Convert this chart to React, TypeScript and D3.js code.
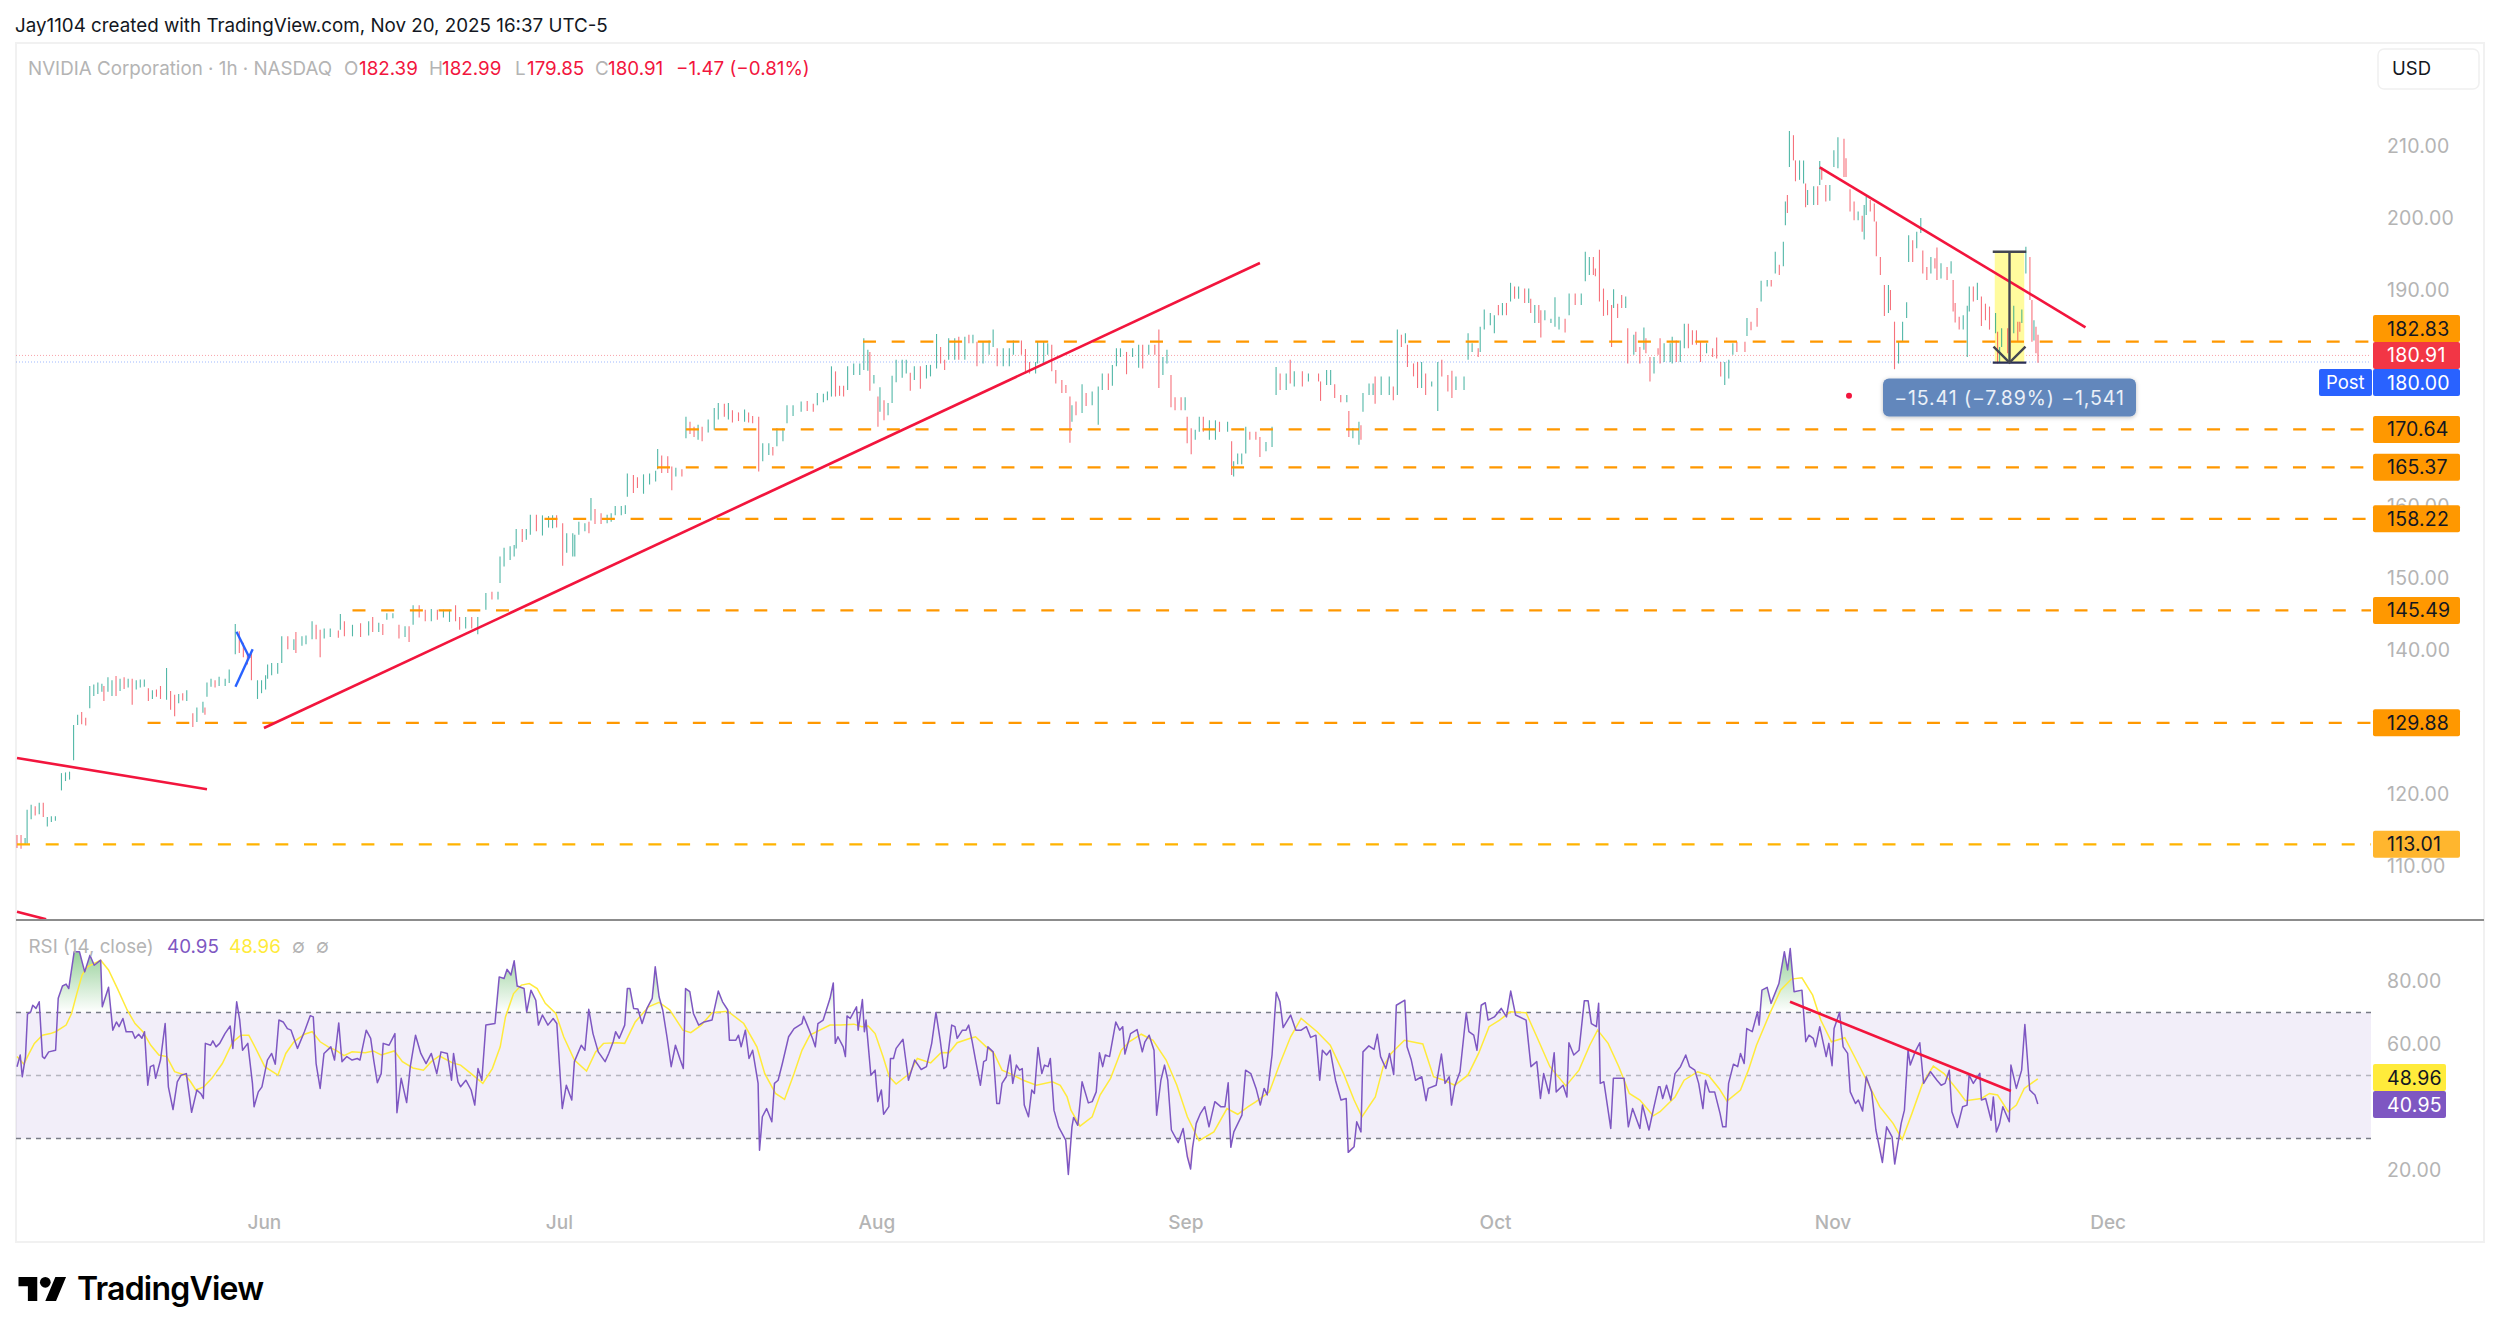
import React from 'react';
import * as d3 from 'd3';

// one row per visible hourly bar: [bar number, high, low, 1 = up / 0 = down]
type Bar = [number, number, number, number];

const mayBars: Bar[] = [
  [0,114.3,112.5,0],[2,114.3,112.4,0],[4,113.9,113,1],[5,117.8,113.1,1],[7,118.5,116.5,1],[9,118.3,117,0],[11,118.8,117.2,1],[13,118.8,116.8,0],[15,116.8,115.5,1],[17,116.9,116.1,1],[19,116.9,116.3,1],
  [22,122.9,120.5,1],[24,123,121.8,1],[26,123.1,122,1],[28,129.6,124.7,1],[30,131,129.6,1],[32,131.4,129.7,0],[34,130.6,129.5,0],[36,135,131.9,1],[38,135.2,133.6,1],[40,135.5,133.9,1],[42,135.3,134.2,1],[43,135,132.9,0],[45,136.2,134.2,1],[47,135.8,133.6,1],[49,136.4,133.6,0],[51,136,134.3,1],[53,136.2,134.6,0],[55,136,134.8,1],[57,136,132.4,0],[59,135.8,134.5,1],[61,135.9,134.8,1],[63,135.9,134.9,1],
  [65,134.7,132.9,0],[67,134.4,133.2,1],[69,134.5,133.5,0],[71,135,133.2,0],[74,137.5,133.1,1],[76,134.3,131.7,0],[78,133.8,130.8,0],[80,133.9,132.6,1],[82,134,133,0],[84,134.4,132.9,1],[87,131.2,129.3,0],[89,132,130,1],[92,132.8,131.3,1],[93,132,131,0],[94,135.5,133.5,1],[96,136,134.9,1],[98,135.8,134.8,0],[100,136.3,135,1],[103,136,135,1],[105,137.3,135.4,1],[108,143.6,139.4,1],[110,142.6,139.6,0],[112,141,139,0],[114,139.5,138,0],[116,139.5,135.8,0],[119,135.8,133.2,1],[121,135.8,134,1],
];
const junBars: Bar[] = [
  [123,136.5,134.5,1],[124,138,136,1],[126,138.2,136.5,1],[129,138.2,136.7,1],[131,141.9,138.2,1],[134,141.9,140.1,0],[137,141.5,140,1],[138,142.5,139.6,0],[141,141.9,140.6,1],[143,142,140.8,1],[146,144,141.5,1],[148,143.5,141.5,0],[150,142.8,139,0],[152,143,141.6,1],[155,143,141.8,1],[159,142.7,141.7,0],[160,145,142.8,1],[162,144,141.9,0],[166,143.5,141.9,1],[170,143.7,141.8,0],[174,144,142,1],[176,144.6,142.5,0],[179,143.8,142.5,1],[181,143.6,142.1,0],[183,145.1,144.2,1],[186,145.1,144.4,1],[189,143.5,141.6,0],[192,143.3,141.8,1],[194,143.3,141.1,0],[196,146.2,143.5,1],[199,146.2,144.5,0],[202,145.6,144,0],[205,145.7,144,1],[208,145.6,144.2,0],[211,145.6,144.5,1],[214,145.6,143.9,1],[217,146.2,144,0],[219,144.6,142.8,0],[222,144.6,143,1],[225,144.6,143,0],[228,144.6,142.2,1],[232,147.9,145.6,1],[235,148.1,147,0],[238,148.1,147,1],
  [239,153,149.3,1],[241,154.2,151.6,1],[244,154.4,152.5,1],[246,154.6,153,1],[247,156.8,154.1,1],[250,156.8,155,0],[252,156.8,155.3,1],[254,158.8,156,1],[257,158.8,156.5,0],[260,158.7,155.9,1],[263,158.6,157,1],[265,158.7,156.9,1],[267,158.7,157,0],
];
const julBars: Bar[] = [
  [270,157.6,151.7,0],[272,156.2,153.5,1],[275,156.2,153,1],[276,156,153,1],[278,157.8,156,1],[281,157.6,156.5,1],[283,157.8,156.2,0],[284,161.1,158,1],[286,159.6,157.5,0],[289,159,157.5,0],[292,158.8,157.6,1],[294,159,157.8,1],[296,160,158.7,1],[299,160,158.7,1],[301,160.1,158.9,1],
  [302,164.5,161.3,1],[305,164.3,161.8,0],[307,164,162.5,0],[310,164.4,161.7,1],[313,164.5,163,1],[316,164.9,163.4,1],[317,167.9,165.1,1],[319,167,164.6,0],[322,166.9,164.6,0],[324,165.5,162.2,0],[326,165.3,164.1,1],[329,165.1,164.1,0],
  [331,172.4,169.4,1],[333,171.7,170,0],[335,171,169.6,0],[337,171.3,169.2,1],[339,171,169,0],[342,172,170.2,1],[345,173.6,170.6,1],[347,174.3,172,1],[350,174.2,172.4,0],[352,174.3,172,1],[354,173.3,171.6,0],[357,173,171.8,0],[360,173.4,171.7,1],[362,173,171.6,0],[364,172.5,171.5,0],[367,172.4,164.8,0],[369,168.7,166.2,1],[372,168.7,167.1,1],[374,168.2,167,0],[376,170.8,168.3,1],[379,170.8,169,1],[381,174,171.5,1],[384,174,172.5,1],
  [388,174.5,173.1,1],[391,174.6,173.2,0],[394,174.2,173.1,0],[396,175.7,174,1],[399,175.6,174.4,1],[401,175.9,174.7,1],[403,179.4,175.2,1],[405,178.7,175.2,0],[407,176.7,175.3,0],[409,176.7,175.2,0],[411,179.4,176.1,1],[414,179.8,178.2,1],[417,179.8,178.2,1],[419,183.3,178.9,1],[421,181.7,178.8,1],[422,181.4,176,0],
];
const augBars: Bar[] = [
  [424,178.2,177,1],[426,175.2,171,0],[427,176.5,173.1,1],[429,174.7,171.9,0],[431,174.3,172.6,1],[433,178.1,174.3,1],[435,180.3,177.2,1],[438,180.3,177.8,1],[440,180.3,178.4,1],[442,178.5,176,0],[444,179.4,177.5,1],[447,179.4,176.3,0],[450,179.6,177.7,1],[452,179.6,178,1],[455,183.9,179.1,1],[457,182.1,179.8,0],[459,180.3,178.9,0],[461,183.3,180.3,1],[464,183.3,180.3,1],[466,183.5,180.3,0],[469,183.5,180.3,1],[471,183.8,182.6,0],[473,183.8,182.6,1],[475,182.8,179.4,0],[478,182.8,179.8,1],[481,183,181,1],[483,184.5,182.1,1],[485,181.9,179.4,0],[488,181.9,179.4,1],[491,181.9,179.4,1],[493,183,181,1],[497,183,181,0],[499,181.8,178.4,0],[501,180,178.4,0],[504,180,178.4,1],[505,182.8,179.8,1],[508,182.8,179.8,1],[510,182.6,181,1],[512,182.4,178.7,0],[514,178.9,177,0],[517,177.5,175.7,0],[519,176.8,175.7,0],[521,175.2,168.8,0],[522,174,171.7,1],[524,174.5,172.6,0],[527,176.9,172.9,1],[529,175.7,173.9,0],[532,175.9,174,1],[535,176.6,171.3,1],[537,178.4,176.1,1],[540,178.4,176.1,0],[542,179.6,176.7,1],[544,181.9,179.4,1],[546,181.9,180.7,1],[549,181.4,178.3,0],[552,181.9,180.7,1],[555,182.4,179.2,1],[557,182.4,179.1,0],[560,182.4,181,1],[563,182.4,181,0],[565,184.5,176.4,0],[567,180.7,178.2,1],[569,181.7,179.8,1],[571,178.2,173.7,0],[573,175.1,173.3,0],[576,175.1,173.3,0],[578,175.1,173.3,1],
];
const sepBars: Bar[] = [
  [579,172.4,168.7,0],[581,170.8,167.2,0],[583,170.6,169.2,1],[585,172.4,170.3,1],[587,172.4,170.3,0],[590,171.9,169.2,1],[593,171.9,169.2,1],[595,171.7,170.3,0],[599,171.7,170.3,1],[601,169,164.3,0],[602,166.2,164.1,1],[604,167.3,165.8,1],[606,167.3,165.8,1],[608,171,167.3,1],[610,170.3,169.2,0],[613,170.3,169.2,0],[615,169.6,166.8,0],[618,168.9,167.6,1],[621,171,168.2,1],
  [623,179.3,175.4,1],[625,178.4,176.1,0],[628,178.4,176.1,1],[630,180.3,177,0],[632,178.7,176.6,1],[636,178.7,176.6,0],[639,178.4,177.3,1],[644,178.4,177.3,0],[645,177.3,174.6,0],[648,178.9,176.8,1],[650,178.9,176.8,1],[652,176.9,175,0],[655,175.4,174.4,0],[658,175.4,174.4,1],[659,173.2,169.6,0],[661,170.8,169.4,1],[664,171.7,168.5,1],[665,171.2,169.2,0],[666,175.7,173.1,1],[669,177,175.4,1],[671,177,175.4,1],[672,178,174.2,0],[675,178,175.4,1],[679,178,175.4,1],[681,176.6,174.7,0],[683,184.5,175.4,1],[685,183.8,182.1,0],[687,184,182.6,1],[688,182.4,179.3,0],[691,179.8,178,0],[693,180,176.4,0],[695,180,176.4,1],[697,178.4,175.4,0],[700,177.3,176.6,1],[703,180,173.2,1],[705,180.3,178,0],[708,178.2,175.9,0],[710,178.8,175,0],[712,178,176.1,1],[716,178,176.1,1],[718,184,180.3,1],[720,182.6,181.4,1],[723,181.9,180.7,0],[724,184.9,181.4,1],[726,187.3,184.5,1],[729,186.8,185.1,1],
];
const octBars: Bar[] = [
  [731,186.5,184,1],[733,187.9,186.5,0],[735,188.2,186.5,1],[737,188.2,186.5,0],[739,191,188.4,1],[741,190.5,188.8,0],[743,190.5,188.8,1],[746,190.2,188.2,0],[748,190.2,188.2,1],[749,188.8,186.8,0],[751,187.9,185.4,1],[753,187.9,185.4,0],[754,187.2,183.4,0],[756,187.2,185.8,1],[759,186,185.4,1],[761,189,184.9,1],[763,186.3,184.5,1],[766,186,184.1,0],[768,189.5,186.5,1],[771,189.5,187.9,0],[774,189.5,187.9,1],
  [776,195.3,191.2,1],[778,194.6,192.1,1],[780,194.6,192.1,0],[781,193,191.9,0],[783,195.6,188.4,0],[785,190.2,186.4,0],[787,188.6,186.5,0],[789,187.9,182.1,0],[790,190.1,187.5,1],[792,188.1,186.1,0],[794,189.3,187.5,0],[796,189.1,187.5,1],[797,184.7,179.8,0],[800,183.8,181,1],[801,184.2,181.4,0],[803,182.1,179.8,0],[805,184.8,181.7,1],[806,183.3,181.2,0],[808,180.7,177.3,0],[810,180.7,178.4,1],[812,181.9,181,0],[813,183.3,179.8,0],[815,182.6,180,1],[818,182.6,180,1],[819,183.5,179.8,1],[821,183,180,0],[823,183,180,1],[825,185.3,181.9,1],[827,185.3,181.9,0],[829,184.4,182.4,0],[831,184.4,182.4,0],[833,182.8,180,0],[836,182.6,181.2,1],[839,181.9,180.7,0],[841,183.4,180.5,0],[843,180,178,0],[845,180,176.8,1],[847,180.3,177.7,1],[849,182.6,181,1],[851,182.8,181.4,0],[855,182.8,181.4,0],[856,186.1,183.6,1],[858,185.6,184.4,0],[861,187.5,184.9,0],[863,191.3,188.4,1],[866,191.4,190.5,1],[868,191.4,190.5,0],[870,195.3,192.3,1],[872,193.5,192.1,0],[874,196.7,193.3,1],[875,202.3,199,1],[876,203.2,200.7,0],[877,212.1,207.1,1],[879,211.5,208,0],[880,208,205.1,0],[882,208,205.3,1],[884,208,204.8,1],[885,204.8,201.5,0],[886,203.9,201.8,1],[889,204.4,201.8,1],[891,204.4,201.8,0],[892,207.9,204.6,1],[893,207.1,205.3,0],[895,204.6,202.3,0],[897,204.6,202.4,1],
];
const novBars: Bar[] = [
  [899,209.4,207.1,1],[901,211.2,206.9,1],[904,211,205.7,0],[905,208.3,205.7,0],[907,204,200.9,0],[909,202.3,199.7,0],[911,200.9,199.7,1],[913,200.3,198.1,0],[914,201.8,197,1],[915,203,200.4,1],[917,202.5,200.9,0],[919,202,199.5,0],[920,199.5,194.7,0],[922,194.6,192.1,0],[924,190.7,186.4,0],[926,190.7,186.8,1],[927,190,187.2,0],[929,185.6,179,0],[931,182.8,179.8,1],[933,185.6,182.8,1],[935,188.3,186.1,1],[936,197.6,193.9,1],[938,196.9,193.9,0],[940,198.1,195.8,1],[942,200,197.9,1],[943,195.5,192.3,0],[945,193.2,191.4,0],[947,194.6,192.3,1],[949,194.4,193,0],[950,195.9,191.4,0],[952,193.7,191.6,1],[955,193.2,191.4,0],[957,194,192.3,1],[958,191.4,187,0],[959,188.2,185.5,0],[961,186.3,184.5,0],[963,186.5,184.5,1],[965,187.8,180.7,1],[966,190.5,187,1],[968,190.5,188.4,0],[970,191,188.6,1],[972,189.1,185,0],[974,188.1,185.8,0],[976,187.7,184.5,0],[979,186.8,184,1],[980,184.2,179.8,0],[981,182.1,180,1],[982,184.7,182.1,1],[985,184.7,181.2,0],[986,183.3,180.7,0],[988,187.8,184,1],[990,185.6,182.8,0],[991,185.6,184.2,0],[992,187.3,185.4,1],[994,196,192.3,1],[996,194.6,188.6,0],[997,188.6,182.8,0],[998,185.8,183,1],[999,184.9,181.2,0],[1000,183.8,179.9,0],
];

// [bar number, RSI]
type Pt = [number, number];
const rsiMayJul: Pt[] = [
  [0,52.8],[1.6,56.5],[2.6,49.6],[4.2,56],[5.2,69.5],[6.8,70.2],[7.8,72.3],[9.4,71.3],[11,73.4],[12.6,56],[13.6,55.4],[15.7,57.5],[19.1,58],[20.4,74.5],[22.5,78.4],[24.3,79],[25.6,77.6],[28.3,89.3],[30.9,89.3],[33.5,82.9],[36.1,88.2],[38.2,85],[41.4,86.6],[42.2,71.8],[45.3,78],[47.4,64.4],[49.2,67],[50.5,65.5],[52.4,68.1],[54,63.9],[57.1,63.9],[58.4,61.8],[60.2,63.1],[61.8,61.8],[63.1,63.9],[64.7,46.9],[66,52.8],[67.6,53.3],[68.6,49.1],[71,54.9],[73.3,66.5],[74.9,46.4],[77.2,39.2],[79.3,48],[81.2,50.1],[83.8,50.6],[86.4,38.3],[89,45.4],[91.1,44.1],[92.2,42.7],[93.2,60.2],[95.8,59.6],[96.9,61],[98.5,59.1],[100.3,60.2],[102.9,63.3],[105.5,65.7],[106.8,58.6],[108.7,73.4],[110.2,67.6],[111.6,58],[114.2,60.2],[116.5,47.5],[117.3,40.1],[119.4,44.8],[121.2,46.4],[123.9,54.9],[126,57],[127.8,53.6],[129.6,67.6],[131.7,67],[133.8,64.9],[135.6,64.4],[138.8,58.6],[142.2,63.9],[145.1,69],[146.6,68.6],[148,53.8],[150,45.9],[151.9,57],[155.3,59.1],[157.1,54.9],[159.2,66.7],[160.8,54.4],[163.2,56],[165.8,54.9],[168.4,55.4],[169.7,54.9],[172.8,64.4],[175,61.8],[176.5,54.9],[178.3,47.7],[180.2,50.6],[181.2,60.2],[184.1,59.6],[187,63.3],[188,38.2],[190.1,49.1],[192.8,41.4],[194.6,52.8],[197.2,62.8],[199.8,57],[202.4,53.8],[205,57],[207.7,50.6],[209.8,57.5],[212.9,57],[215,48.5],[216,57],[218.2,48],[219.5,46.4],[222.1,48.5],[224.7,45.4],[226.5,40.6],[228.1,52.2],[230,48.5],[232,66],[236.5,66.5],[238.6,81.3],[241,80.8],[242.5,83.7],[244.4,81.9],[246,86.4],[247.5,78.4],[250.9,77.6],[252.2,70.2],[254.3,77.1],[256.7,73.9],[258,66],[260,69.2],[262.7,66],[265.3,68.1],[267.1,66.5],[269.8,39.5],[271.8,46.9],[274.5,42.2],[275.8,54.4],[279.2,59.6],[281,58],[282.9,71],[285,63.3],[287.6,57.5],[291,54.4],[292.8,57],[295,60.7],[296.2,63.9],[298,61.8],[300.7,66],[302,77.6],[303.3,77.6],[305.1,71.3],[307.2,71.1],[309.3,66.5],[311.7,71.3],[314.3,74.5],[315.8,84.5],[317.7,75],[319.5,70.8],[321.6,62.3],[323.7,52.8],[325.8,59.6],[328.2,54.9],[329.7,52.2],[330.8,77.6],[332.9,76.6],[334.7,69.7],[337.3,66],[340,67],[343.9,67.6],[347,76.8],[349.1,73.4],[351.7,70.8],[352.5,61.2],[355.7,61.2],[357,62.8],[358.3,59.1],[360.4,64.4],[362.2,55.4],[364,58],[366.7,47.5],[367.4,26.3],[368.8,36.9],[370.9,39.5],[373.5,35.3],[374.8,47.5],[376.6,48.5],[378.7,53.8],[381.8,62.3],[384.5,64.9],[388.4,66.5],[389.2,68.8],[391,66],[393.6,61.8],[395,59.1],[396.3,66.5],[398.9,67.6],[402.3,74.5],
];
const rsiAugOct: Pt[] = [
  [403.9,79.4],[404.9,60.2],[406.2,62.3],[408.8,59.1],[409.9,56],[410.7,68.9],[412.3,68.1],[415.4,71.8],[416.2,64.4],[418.3,74.1],[419.3,63.9],[420.1,67.6],[422.5,50.1],[424.6,51.7],[425.9,41.7],[427.7,45.4],[428.8,37.7],[431.4,40.1],[432.2,55.4],[433.7,55.4],[435,58.6],[438.4,61.5],[441.1,48.5],[444.2,54.9],[447.4,51.9],[450,52.8],[452.6,60.2],[454.7,70],[456.8,61.2],[458.6,52.2],[459.9,52.8],[462.5,66],[464.1,65.5],[465.2,61.8],[467.8,64.4],[469.6,64.4],[470.9,66],[472.5,61.2],[474.3,54.9],[476.7,46.9],[478.3,54.4],[479.6,54.9],[480.4,59.1],[483,57.5],[484.8,41.1],[486.1,41.1],[487.4,47.5],[489.5,49.6],[491.4,56.5],[492.7,47.5],[494.5,53.3],[496.1,51.7],[497.4,52.2],[498.4,40.6],[500.5,36.9],[502.1,45.4],[503.4,44.3],[505.2,58.9],[507.1,50.6],[508.4,53.3],[510.2,52.8],[511.3,55.4],[513.1,39],[515.4,33.7],[518.9,29.5],[520.2,18.6],[522,33.7],[522.8,36.7],[524.9,34.2],[527,48],[530.1,41.3],[532,41.7],[534,44.8],[535.6,57.2],[537.2,52.8],[538.5,56.5],[540.6,56],[543.7,67],[545.6,64.4],[547.1,65.5],[548.2,56.8],[551,63.3],[554.2,64.6],[556.8,57.5],[558.1,60.7],[560.2,62.8],[562.6,58],[563.9,37.4],[566,48.5],[567.8,53.3],[569.4,48.5],[571.2,32.7],[574.6,28.7],[577,33.2],[579.1,24.2],[580.7,20.3],[581.7,27.2],[583.5,34.8],[585.6,38],[587.7,40.1],[589.8,33.7],[592.7,41.7],[595.6,40.1],[597.7,40.1],[599.3,47.7],[600.6,27.2],[602.1,32.1],[606.1,37.4],[607.9,51.7],[610.5,50.6],[613.1,45.9],[615.2,40.6],[617.1,45.9],[618.6,43.8],[621,56.5],[623.1,76.4],[624.9,73.4],[626.5,65.2],[630.2,69.2],[632.8,64.4],[635.4,64.4],[638,65.5],[640.1,62.1],[642.7,62.8],[644.6,48.5],[645.9,58],[648,56.5],[649.8,58],[652.4,48.5],[655.1,42.2],[657.7,42.7],[658.7,25.6],[661.6,27.4],[662.9,35.3],[665,32.1],[666,57.5],[668.9,59.4],[671.5,58.3],[673.1,63.1],[674.7,56],[677.3,52.2],[679.1,57],[681.2,50.3],[682.5,72.3],[686.7,73.9],[687.8,59.1],[689.9,54.9],[692,48.5],[695.1,49.6],[697.2,42],[698.3,45.9],[702.2,46.9],[704.8,56.8],[706.6,47.5],[708.7,49.6],[709.8,40.6],[711.3,46.4],[714,51.2],[717.1,69.9],[718.4,63.9],[720.8,62.8],[722.4,58],[724.5,72.3],[726.5,73.1],[727.9,67.6],[731,68.6],[734.4,71.3],[737,68.6],[739.1,76.8],[741.5,69.2],[746.7,67.6],[749.1,52.8],[752,54.4],[753.8,42.7],[755.4,50.6],[758,44.3],[760.6,57.2],[761.6,44.8],[765,46.9],[766.9,43.2],[767.9,60.4],[770.3,56.5],[772.9,58],[775.5,73.7],[777.4,73.7],[779,66.5],[781.5,65.5],[782.6,72.9],[783.4,47.5],[785.2,48],[788.6,33.2],[789.9,49.1],[795.2,49.1],[797.3,33.7],[799.4,39.5],[803,33.2],[804.3,40.6],[807.5,32.7],[809.6,39],[812.2,46.4],
];
const rsiOctNov: Pt[] = [
  [813,46.4],[814.3,42.7],[816.2,46.9],[818.3,42.2],[820.4,50.6],[823.1,52.8],[825.7,56.5],[827.6,52.8],[830.2,51.7],[832.1,47.5],[834.2,39.5],[835.5,48.5],[837.4,44.8],[840,44.8],[842.7,37.9],[844,33.7],[845.6,33.7],[846.9,47.5],[849.3,53.6],[851.4,52.8],[852.8,57],[854.6,53.8],[855.9,64.9],[858.6,63.9],[861.2,70.2],[862,66],[863.4,77.1],[866,78],[867.9,72.9],[871.8,79.2],[874.5,89.3],[876.1,83.5],[877.4,90.3],[879.3,76.6],[883.2,77.1],[885.1,60.7],[886.7,62.8],[888.8,61.8],[889.9,59.1],[892,65.5],[895.2,56],[896.5,60.2],[898.1,53.1],[899.1,64.9],[901.8,70],[903.6,59.1],[905.8,57],[907.1,44.8],[909.7,41.1],[911.1,42.2],[913.2,38.7],[915,49.6],[917.7,44.8],[919.8,32.7],[923,22.4],[925.1,33.7],[927.8,30.5],[929.1,21.9],[932.3,34.8],[933.9,39],[935.7,58],[936.8,53.3],[939.2,57.5],[941.5,60.4],[943.4,47.5],[946.8,51.2],[950,48.5],[952.1,46.9],[954,47.5],[956.1,51.7],[957.4,38.5],[960.1,33.5],[962.7,40.1],[964.9,40.6],[965.9,50.1],[968,47.5],[971.2,50.7],[972,42.2],[974.1,42.7],[976.8,35.8],[977.9,43.2],[979.4,32.1],[981,34.8],[982.6,40.1],[985.8,35.3],[986.6,53.3],[989.3,45.9],[991.9,51.7],[993.5,66.2],[995.9,45.4],[998.5,43.8],[999.9,40.95],
];
const rsiSignal: Pt[] = [
  [0,56],[3.4,53.6],[6,57],[8.6,60.2],[12.6,62.8],[16.5,63.3],[19.1,63.9],[24.3,66],[27,69.7],[29.6,76],[32.2,81.9],[34.8,84.5],[38.2,85.6],[41.4,86.6],[45.3,83.5],[49.7,77.6],[54.5,70.8],[58.4,66.5],[62.3,63.9],[66.2,59.6],[70.2,56.5],[74.1,56],[78,51.2],[83.3,50.1],[85.9,48],[88.5,45.4],[92.4,46.4],[96.4,49.1],[101.6,53.8],[106.8,60.7],[110.8,62.8],[114.7,62.8],[118.6,58],[122.6,52.8],[129.1,50.1],[133,57],[137,60.7],[142.2,63.1],[146.1,63.9],[150,60.7],[154,59.1],[157.9,58],[161.8,56.3],[165.8,57.5],[172.3,57.2],[176.3,57.8],[180.2,56.5],[186.7,57.8],[190.7,54.4],[195.9,52.4],[201.1,51.7],[205,54.4],[209,56.2],[215.5,54],[219.5,53.3],[224.7,50.6],[230.5,47.5],[235.2,52.2],[239.1,59.1],[241.7,68.6],[245.7,76],[249.6,78.7],[253.5,79.2],[257.4,77.6],[261.4,72.9],[266.6,69.7],[270.5,62.3],[275.8,54.9],[281.8,51.4],[286.3,57.5],[290.2,60.2],[296.7,60.4],[300.7,60.2],[305.9,67],[312.5,71.8],[317.7,73.2],[323,70.8],[329.5,64.4],[333.4,63.6],[338.6,66],[343.9,69.9],[351.7,70.4],[359.6,66.5],[366.1,59.1],[370,50.6],[375.3,44.3],[379.8,42.4],[384.5,50.6],[388.4,58],[392.3,62.8],[402.3,66],
  [407.5,66],[414.1,66.3],[418,65.5],[421.2,65.7],[424.6,63.3],[428.5,56],[431.6,49.6],[435,47.3],[441.6,50.6],[445.5,55.4],[452.1,54],[457.3,57.3],[461.2,57.2],[465.2,60.4],[471.7,61.8],[474.3,62.3],[479.6,59.1],[483.5,57],[487.4,51.7],[491.4,50.6],[497.9,48.5],[504.4,46.9],[512.3,48],[516.2,46.9],[519.6,43.2],[521.5,39],[526,33.9],[532,36.9],[535.9,43.8],[541.1,49.1],[546.4,58],[550.3,60.7],[556.3,63.1],[562.1,61.2],[568.6,54.9],[573.9,46.9],[579.1,36.9],[584.9,29.3],[592.2,32.1],[598.7,39.5],[604,37.7],[609.2,40.1],[613.1,41.7],[619.7,44.8],[624.9,53.8],[630.2,62.3],[635.4,68.1],[643.3,63.9],[649.8,59.6],[656.4,50.6],[661.6,42.2],[665.5,36.9],[672.1,43.2],[676,52.8],[679.9,57],[686.5,61.2],[695.6,60],[700.9,49.6],[706.1,48.5],[711.4,46.9],[717.9,50.1],[723.2,57],[728.4,65.5],[733.6,67.6],[738.9,70.2],[746.7,69.9],[752,62.3],[758.5,52.8],[766.4,46.7],[772.9,51.7],[778.2,59.6],[782.1,64.4],[787.3,60.2],[792.6,52.8],[797.8,44.3],[803,42.2],[809.6,37.2],[813,38.5],
  [820.4,43.2],[824.9,48.5],[831.6,51.2],[836.9,50.1],[842.2,45.9],[846.1,41.9],[852.8,45.4],[856.7,51.7],[860.7,59.6],[867.3,69.7],[872.6,77.1],[877.9,80.6],[883.2,81],[888.5,75.5],[892.5,67.6],[897.8,60.7],[904.4,62],[909.7,55.4],[916.4,46.9],[921.7,40.1],[928.3,34.8],[932.8,29.7],[937.6,37.9],[942.9,47.5],[948.2,53],[953.5,50.6],[960.1,45.4],[964.1,42],[972,42.7],[976,44.3],[980,43.8],[985.3,38.5],[989.3,40.6],[993.2,45.9],[999.9,48.96],
];

const monthLabels = ['Jun', 'Jul', 'Aug', 'Sep', 'Oct', 'Nov', 'Dec'];
const monthBars = [122.4, 268.4, 425.5, 578.4, 731.6, 898.6, 1034.7];
// 180, 170 and 130 sit fully under the price labels, so they are left out
const priceTicks = [210, 200, 190, 160, 150, 140, 120, 110];
const rsiTicks = [80, 60, 20];
const rsiBands = [70, 50, 30];

const levelPrices = [182.83, 170.64, 165.37, 158.22, 145.49, 129.88, 113.01];
const levelStartBars = [418.6, 331, 316.7, 261, 166, 64.6, 0];
const levelColors = ['#FF9800', '#FF9800', '#FF9800', '#FF9800', '#FF9800', '#FF9800', '#FFB300'];
const labelShift = [-13, 0, 0, 0, 0, 0, 0];

// trend lines as [bar, price, bar, price]
const redLines = [
  [122.2, 129.17, 615, 193.75],
  [0, 125, 94, 120.67],
  [0, 103.65, 14.4, 102.6],
  [892, 207.04, 1023.5, 184.82],
];
const blueLines = [
  [108.6, 142.54, 115.1, 138.9],
  [108.1, 134.9, 116.6, 140.1],
];
const rsiTrend = [877.3, 73.4, 986.6, 45.1];

const measureTop = 195.32;
const measureBottom = 179.91;
const measureBars = [978.6, 993.2];

const GREEN = '#089981';
const RED = '#F23645';
const LINE_RED = '#F2153D';
const GREY = '#B4B4B4';
const FONT = 'Inter, "Liberation Sans", sans-serif';
const BAND_END = 1164.8;

const x = d3.scaleLinear().domain([0, 1000]).range([17, 2038]);
const y = d3.scaleLinear().domain([210, 110]).range([146, 866]);
const yr = d3.scaleLinear().domain([50, 20]).range([1075.5, 1170]);

const bars = [...mayBars, ...junBars, ...julBars, ...augBars, ...sepBars, ...octBars, ...novBars];
const rsiPts = [...rsiMayJul, ...rsiAugOct, ...rsiOctNov];

const rsiLine = d3.line<Pt>().x((d) => x(d[0])).y((d) => yr(d[1]));
const obArea = d3.area<Pt>().x((d) => x(d[0])).y0(yr(70)).y1((d) => yr(d[1]));
const osArea = d3.area<Pt>().x((d) => x(d[0])).y0(yr(30)).y1((d) => yr(d[1]));

const PriceBox = ({ yc, fill, text, color, w = 87 }: { yc: number; fill: string; text: string; color: string; w?: number }) => (
  <g>
    <rect x={2373} y={yc - 13.5} width={w} height={27} rx={2} fill={fill} />
    <text x={2387} y={yc} dy="0.36em" fontSize={19.5} letterSpacing={0.2} fill={color}>{text}</text>
  </g>
);

export default function App() {
  const midBar = (measureBars[0] + measureBars[1]) / 2;
  return (
    <div style={{ position: 'absolute', left: 0, top: 0 }}>
      <svg width={2500} height={1336} viewBox="0 0 2500 1336" fontFamily={FONT} style={{ display: 'block', background: '#fff' }}>
        <defs>
          <clipPath id="mainClip"><rect x={16} y={44} width={2468} height={876} /></clipPath>
          <clipPath id="obClip"><rect x={16} y={940} width={2355} height={yr(70) - 940} /></clipPath>
          <clipPath id="osClip"><rect x={16} y={yr(30)} width={2355} height={80} /></clipPath>
          <linearGradient id="obGrad" gradientUnits="userSpaceOnUse" x1={0} x2={0} y1={yr(90)} y2={yr(70)}>
            <stop offset="0" stopColor="#4CAF50" stopOpacity={0.6} />
            <stop offset="1" stopColor="#4CAF50" stopOpacity={0} />
          </linearGradient>
          <linearGradient id="osGrad" gradientUnits="userSpaceOnUse" x1={0} x2={0} y1={yr(30)} y2={yr(10)}>
            <stop offset="0" stopColor="#FF5252" stopOpacity={0} />
            <stop offset="1" stopColor="#FF5252" stopOpacity={0.6} />
          </linearGradient>
          <filter id="tipShadow" x="-5%" y="-20%" width="110%" height="150%">
            <feDropShadow dx={0} dy={1} stdDeviation={2} floodColor="#000" floodOpacity={0.25} />
          </filter>
        </defs>

        <text x={15} y={25} dy="0.36em" fontSize={18.8} fill="#131722">Jay1104 created with TradingView.com, Nov 20, 2025 16:37 UTC-5</text>

        <rect x={16} y={43} width={2468} height={1199} fill="#fff" stroke="#F1F1F1" strokeWidth={2} />

        {/* main pane */}
        <g clipPath="url(#mainClip)">
          <line x1={x(0) - 1} x2={x(BAND_END)} y1={y(180.91)} y2={y(180.91)} stroke={RED} strokeOpacity={0.45} strokeDasharray="1 2" />
          <line x1={x(0) - 1} x2={x(BAND_END)} y1={y(180)} y2={y(180)} stroke="#2962FF" strokeOpacity={0.45} strokeDasharray="1 2" />
          <rect x={x(measureBars[0])} width={x(measureBars[1]) - x(measureBars[0])} y={y(measureTop)} height={y(measureBottom) - y(measureTop)} fill="#FFFB9E" />
          {bars.map((b) => (
            <line key={b[0]} x1={x(b[0])} x2={x(b[0])} y1={y(b[1])} y2={y(b[2])} stroke={b[3] ? GREEN : RED} strokeWidth={1.1} strokeOpacity={0.7} />
          ))}
          {levelPrices.map((p, i) => (
            <line key={p} x1={x(levelStartBars[i])} x2={x(BAND_END)} y1={y(p)} y2={y(p)} stroke={levelColors[i]} strokeWidth={2.2} strokeDasharray="13 15.7" />
          ))}
          {redLines.map((l) => (
            <line key={l[0] + '-' + l[1]} x1={x(l[0])} y1={y(l[1])} x2={x(l[2])} y2={y(l[3])} stroke={LINE_RED} strokeWidth={2.6} />
          ))}
          {blueLines.map((l) => (
            <line key={l[0]} x1={x(l[0])} y1={y(l[1])} x2={x(l[2])} y2={y(l[3])} stroke="#2962FF" strokeWidth={2.4} />
          ))}
          {/* measure tool */}
          <line x1={x(measureBars[0]) - 2} x2={x(measureBars[1]) + 2} y1={y(measureTop)} y2={y(measureTop)} stroke="#434651" strokeWidth={2.4} />
          <line x1={x(measureBars[0]) - 2} x2={x(measureBars[1]) + 2} y1={y(measureBottom)} y2={y(measureBottom)} stroke="#2B2F55" strokeWidth={2.4} />
          <line x1={x(midBar)} x2={x(midBar)} y1={y(measureTop)} y2={y(measureBottom)} stroke="#434651" strokeWidth={2.4} />
          <path d={`M${x(midBar) - 16},${y(measureBottom) - 16}L${x(midBar)},${y(measureBottom)}L${x(midBar) + 16},${y(measureBottom) - 16}`} fill="none" stroke="#434651" strokeWidth={2.4} />
        </g>

        <circle cx={1849} cy={395.7} r={3} fill={LINE_RED} />
        <rect x={1883} y={378.5} width={253} height={38} rx={6} fill="#6287BC" filter="url(#tipShadow)" />
        <text x={2009.5} y={397.5} dy="0.36em" textAnchor="middle" fontSize={19.5} letterSpacing={0.9} fill="#EAF0F8">−15.41 (−7.89%) −1,541</text>

        {/* legend */}
        <text y={68} dy="0.36em" fontSize={18.8} fill={GREY}>
          <tspan x={28}>NVIDIA Corporation · 1h · NASDAQ</tspan>
          <tspan x={344}>O</tspan><tspan x={359} fill={LINE_RED}>182.39</tspan>
          <tspan x={429}>H</tspan><tspan x={442} fill={LINE_RED}>182.99</tspan>
          <tspan x={515}>L</tspan><tspan x={527} fill={LINE_RED}>179.85</tspan>
          <tspan x={595}>C</tspan><tspan x={608} fill={LINE_RED}>180.91</tspan>
          <tspan x={676} fill={LINE_RED}>−1.47 (−0.81%)</tspan>
        </text>

        {/* price axis */}
        <g fontSize={19.5} letterSpacing={0.2} fill={GREY}>
          {priceTicks.map((t) => (
            <text key={t} x={2387} y={y(t)} dy="0.36em">{d3.format('.2f')(t)}</text>
          ))}
        </g>
        <rect x={2378} y={49} width={101} height={40} rx={6} fill="#fff" stroke="#F0F0F0" strokeWidth={1.5} />
        <text x={2392} y={68.5} dy="0.36em" fontSize={18.5} fill="#131722">USD</text>
        {levelPrices.map((p, i) => (
          <PriceBox key={p} yc={y(p) + labelShift[i]} fill={levelColors[i] === '#FFB300' ? '#FFB62E' : '#FF9800'} text={p.toFixed(2)} color="#131722" />
        ))}
        <PriceBox yc={y(180.91)} fill={RED} text="180.91" color="#fff" />
        <PriceBox yc={382.5} fill="#2962FF" text="180.00" color="#fff" />
        <rect x={2319} y={369} width={53} height={27} rx={2} fill="#2962FF" />
        <text x={2326} y={382.5} dy="0.36em" fontSize={18.5} fill="#fff">Post</text>

        <line x1={16} x2={2484} y1={920} y2={920} stroke="#8C8C8C" strokeWidth={2} />

        {/* RSI pane */}
        <rect x={16} y={yr(70)} width={2355} height={yr(30) - yr(70)} fill="#7E57C2" fillOpacity={0.1} />
        {rsiBands.map((b) => (
          <line key={b} x1={16} x2={2371} y1={yr(b)} y2={yr(b)} stroke="#787B86" strokeOpacity={b === 50 ? 0.5 : 1} strokeWidth={1.4} strokeDasharray="5 5" />
        ))}
        <path d={obArea(rsiPts) ?? ''} fill="url(#obGrad)" clipPath="url(#obClip)" />
        <path d={osArea(rsiPts) ?? ''} fill="url(#osGrad)" clipPath="url(#osClip)" />
        <path d={rsiLine(rsiSignal) ?? ''} fill="none" stroke="#FFEB3B" strokeWidth={1.5} />
        <path d={rsiLine(rsiPts) ?? ''} fill="none" stroke="#7E57C2" strokeWidth={1.5} strokeLinejoin="round" />
        <line x1={x(rsiTrend[0])} y1={yr(rsiTrend[1])} x2={x(rsiTrend[2])} y2={yr(rsiTrend[3])} stroke={LINE_RED} strokeWidth={2.6} />

        <text y={946} dy="0.36em" fontSize={18.8} fill={GREY}>
          <tspan x={28.5}>RSI (14, close)</tspan>
          <tspan x={167} fill="#7E57C2">40.95</tspan>
          <tspan x={229} fill="#FFEB3B">48.96</tspan>
          <tspan x={292}>∅</tspan>
          <tspan x={316}>∅</tspan>
        </text>

        <g fontSize={19.5} letterSpacing={0.2} fill={GREY}>
          {rsiTicks.map((t) => (
            <text key={t} x={2387} y={yr(t)} dy="0.36em">{d3.format('.2f')(t)}</text>
          ))}
        </g>
        <PriceBox yc={1077.5} fill="#FFEB3B" text="48.96" color="#131722" w={73} />
        <PriceBox yc={1104.5} fill="#7E57C2" text="40.95" color="#fff" w={73} />

        {/* time axis */}
        <g fontSize={19} fill={GREY} fontWeight={500} textAnchor="middle">
          {monthLabels.map((m, i) => (
            <text key={m} x={x(monthBars[i])} y={1222} dy="0.36em">{m}</text>
          ))}
        </g>

        {/* logo */}
        <g transform="translate(18.5,1271.6) scale(1.34)" fill="#000">
          <path d="M14 22H7V11H0V4h14v18zM28 22h-8l7.5-18h8L28 22z" />
          <circle cx={20} cy={8} r={4} />
        </g>
        <text x={77} y={1288} dy="0.36em" fontSize={32} fontWeight={600} fill="#000" letterSpacing={-0.8}>TradingView</text>
      </svg>
    </div>
  );
}
